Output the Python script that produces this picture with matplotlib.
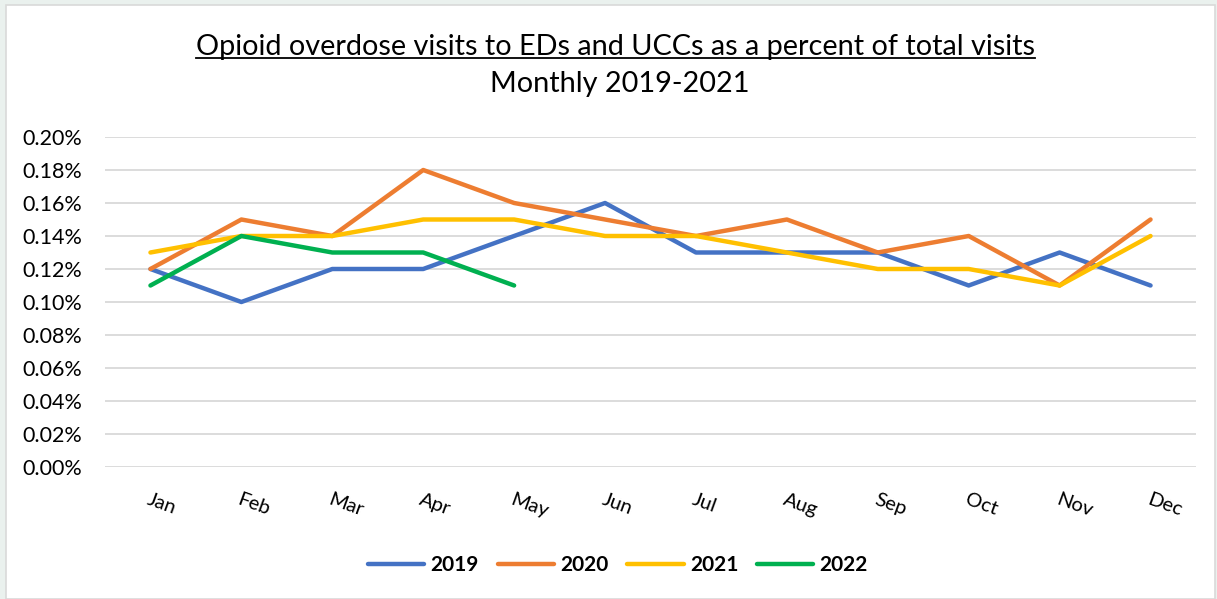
import numpy as np
import matplotlib
matplotlib.use('Agg')
import matplotlib.pyplot as plt
from matplotlib.patches import Rectangle
from matplotlib.lines import Line2D
from matplotlib.ticker import FuncFormatter

months = ['Jan', 'Feb', 'Mar', 'Apr', 'May', 'Jun', 'Jul', 'Aug', 'Sep', 'Oct', 'Nov', 'Dec']
v2019 = [0.12, 0.10, 0.12, 0.12, 0.14, 0.16, 0.13, 0.13, 0.13, 0.11, 0.13, 0.11]
v2020 = [0.12, 0.15, 0.14, 0.18, 0.16, 0.15, 0.14, 0.15, 0.13, 0.14, 0.11, 0.15]
v2021 = [0.13, 0.14, 0.14, 0.15, 0.15, 0.14, 0.14, 0.13, 0.12, 0.12, 0.11, 0.14]
v2022 = [0.11, 0.14, 0.13, 0.13, 0.11]
yticks = [0.00, 0.02, 0.04, 0.06, 0.08, 0.10, 0.12, 0.14, 0.16, 0.18, 0.20]

series = [('2019', v2019, '#4472C4'), ('2020', v2020, '#ED7D31'),
          ('2021', v2021, '#FFC000'), ('2022', v2022, '#00B050')]

plt.rcParams['font.family'] = ['Lato', 'DejaVu Sans']

W, H = 1217, 599
fig = plt.figure(figsize=(W / 100, H / 100), dpi=100)
fig.patch.set_facecolor('#EAF1EE')
# white chart area with thin gray border
bg = Rectangle((6 / W, 0), (W - 8) / W, (H - 5) / H, transform=fig.transFigure,
               facecolor='white', edgecolor='#D9D9D9', lw=1.2, zorder=-10)
fig.patches.append(bg)

ax = fig.add_axes([105 / W, 1 - 467 / H, (1196 - 105) / W, (467 - 137) / H])
ax.set_facecolor('none')
ax.set_zorder(5)

x = np.arange(len(months))
for name, vals, col in series:
    ax.plot(x[:len(vals)], vals, color=col, lw=3.2, label=name, solid_capstyle='round', zorder=3)

ax.set_xlim(-0.5, len(months) - 0.5)
ax.set_ylim(0, 0.20)
ax.set_yticks(yticks)
ax.yaxis.set_major_formatter(FuncFormatter(lambda v, p: '%.2f%%' % v))
ax.grid(axis='y', color='#D9D9D9', lw=1.3)
ax.set_axisbelow(True)
for s in ax.spines.values():
    s.set_visible(False)
ax.tick_params(length=0, colors='black')
ax.tick_params(axis='y', labelsize=15.5, pad=16.5)
ax.set_xticks(x)
ax.set_xticklabels(months, rotation=-20, ha='left', va='top', rotation_mode='anchor')
ax.tick_params(axis='x', labelsize=14.5, pad=17)

t1 = fig.text(615 / W, 1 - 47 / H, 'Opioid overdose visits to EDs and UCCs as a percent of total visits',
              ha='center', va='center', fontsize=20.8, zorder=6)
fig.text(620 / W, 1 - 84 / H, 'Monthly 2019-2021', ha='center', va='center', fontsize=20.8, zorder=6)

# underline the first title line
fig.canvas.draw()
bb = t1.get_window_extent(fig.canvas.get_renderer())
uy = bb.y0 + 2
fig.add_artist(Line2D([bb.x0 / W, bb.x1 / W], [uy / H, uy / H], transform=fig.transFigure,
                      color='black', lw=1.3, zorder=6))

leg = fig.legend(loc='center', bbox_to_anchor=(618 / W, 1 - 565 / H), ncol=4, frameon=False,
                 prop={'weight': 'bold', 'size': 15}, handlelength=2.7, columnspacing=0.9,
                 handletextpad=0.3)
leg.set_zorder(6)
for h in leg.get_lines():
    h.set_linewidth(3.2)

fig.savefig('out.png', dpi=100, facecolor=fig.get_facecolor())
